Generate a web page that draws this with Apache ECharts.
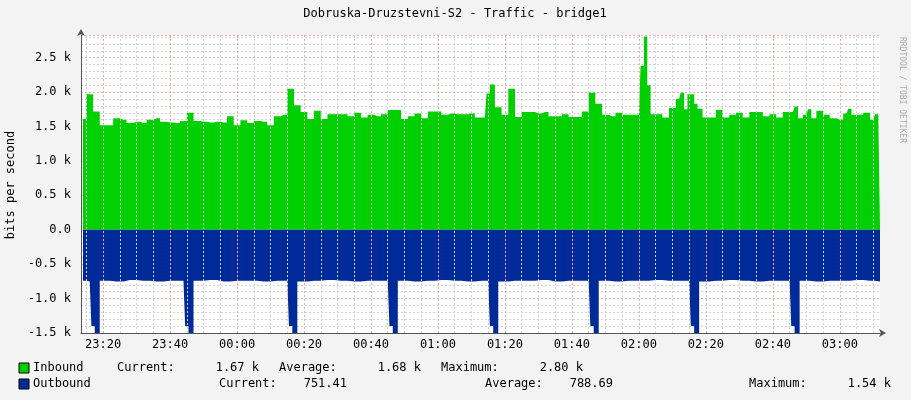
<!DOCTYPE html>
<html>
<head>
<meta charset="utf-8">
<script src="https://cdn.jsdelivr.net/npm/echarts@6/dist/echarts.min.js"></script>
<style>
  html, body { margin: 0; padding: 0; background: #f3f3f3; }
  #chart { width: 911px; height: 400px; }
</style>
</head>
<body>
<div id="chart"></div>
<script>
// x values are minutes after 23:00, y values in k bits per second
var inboundMin = [14, 16, 18, 20, 22, 24, 26, 28, 30, 32, 34, 36, 38, 40, 42, 44, 46, 48, 50, 52,
    54, 56, 58, 60, 62, 64, 66, 68, 70, 72, 74, 76, 78, 80, 82, 84, 86, 88, 90, 92,
    94, 96, 98, 100, 102, 104, 106, 108, 110, 112, 114, 116, 118, 120, 122, 124, 126, 128, 130, 132,
    134, 135, 136, 138, 140, 142, 144, 146, 148, 150, 152, 154, 156, 158, 160, 162, 164, 166, 168, 170,
    172, 174, 176, 178, 180, 181, 182, 183, 184, 186, 188, 190, 192, 193, 194, 195, 196, 197, 198, 200,
    202, 204, 206, 208, 210, 212, 214, 216, 218, 220, 222, 224, 226, 227, 228, 230, 231, 232, 234, 236,
    238, 240, 242, 243, 244, 246, 248, 250, 251, 252];
var inboundVal = [1.61, 1.97, 1.72, 1.52, 1.52, 1.62, 1.60, 1.55, 1.57, 1.55, 1.60, 1.62, 1.57, 1.56, 1.55, 1.58, 1.70, 1.58, 1.57, 1.56,
    1.57, 1.56, 1.65, 1.52, 1.59, 1.55, 1.58, 1.57, 1.52, 1.65, 1.67, 2.05, 1.81, 1.71, 1.61, 1.73, 1.61, 1.68, 1.68, 1.68,
    1.65, 1.70, 1.63, 1.67, 1.65, 1.68, 1.74, 1.74, 1.61, 1.65, 1.69, 1.62, 1.72, 1.72, 1.67, 1.69, 1.68, 1.68, 1.69, 1.63,
    1.63, 1.98, 2.11, 1.78, 1.67, 2.05, 1.64, 1.71, 1.71, 1.69, 1.71, 1.65, 1.65, 1.68, 1.64, 1.64, 1.72, 1.99, 1.83, 1.67,
    1.65, 1.70, 1.67, 1.67, 1.67, 2.38, 2.81, 2.10, 1.68, 1.68, 1.63, 1.77, 1.90, 1.99, 1.75, 1.97, 1.97, 1.83, 1.76, 1.63,
    1.63, 1.74, 1.63, 1.67, 1.70, 1.63, 1.71, 1.71, 1.65, 1.68, 1.63, 1.71, 1.71, 1.79, 1.62, 1.67, 1.75, 1.62, 1.73, 1.67,
    1.62, 1.60, 1.69, 1.76, 1.67, 1.67, 1.70, 1.60, 1.68, 1.68];

var outboundMin = [14, 16, 17, 18, 20, 24, 28, 32, 36, 40, 44, 45, 46, 48, 52, 56, 60, 64, 68, 72,
    75, 76, 77, 79, 83, 87, 91, 95, 99, 103, 105, 106, 107, 109, 113, 117, 121, 125, 129, 133,
    135, 136, 137, 139, 143, 147, 151, 155, 159, 163, 165, 166, 167, 169, 173, 177, 181, 185, 189, 193,
    195, 196, 197, 199, 203, 207, 211, 215, 219, 223, 225, 226, 227, 229, 233, 237, 241, 245, 249, 252];
var outboundVal = [-0.74, -0.75, -1.40, -1.54, -0.74, -0.75, -0.73, -0.74, -0.75, -0.74, -0.74, -1.40, -1.54, -0.74, -0.73, -0.75, -0.74, -0.74, -0.75, -0.74,
    -0.74, -1.40, -1.54, -0.75, -0.74, -0.73, -0.74, -0.75, -0.74, -0.74, -0.74, -1.40, -1.54, -0.74, -0.75, -0.74, -0.73, -0.74, -0.75, -0.74,
    -0.74, -1.40, -1.54, -0.75, -0.74, -0.74, -0.73, -0.75, -0.74, -0.74, -0.74, -1.40, -1.54, -0.74, -0.75, -0.74, -0.74, -0.73, -0.74, -0.74,
    -0.74, -1.40, -1.54, -0.75, -0.74, -0.73, -0.74, -0.75, -0.74, -0.74, -0.74, -1.40, -1.54, -0.74, -0.75, -0.74, -0.74, -0.73, -0.74, -0.75];

var timeLabels = [20, 40, 60, 80, 100, 120, 140, 160, 180, 200, 220, 240];
var minorGrid = [15, 25, 30, 35, 45, 50, 55, 65, 70, 75, 85, 90, 95, 105, 110, 115, 125, 130, 135,
    145, 150, 155, 165, 170, 175, 185, 190, 195, 205, 210, 215, 225, 230, 235, 245, 250];

var legendRows = [
    ["Inbound", "1.67 k", "1.68 k", "2.80 k"],
    ["Outbound", "751.41", "788.69", "1.54 k"]
];

var MONO = "DejaVu Sans Mono";

function zip(xs, ys) {
    return xs.map(function (x, i) { return [x, ys[i]]; });
}

function clock(m) {
    var h = (23 + Math.floor(m / 60)) % 24;
    var mm = m % 60;
    return (h < 10 ? "0" : "") + h + ":" + (mm < 10 ? "0" : "") + mm;
}

var chart = echarts.init(document.getElementById("chart"));

var vLines = [];
minorGrid.forEach(function (m) {
    vLines.push({xAxis: m, lineStyle: {color: "#d4d4d4", type: [2, 2], width: 1}});
});
timeLabels.forEach(function (m) {
    vLines.push({xAxis: m, lineStyle: {color: "#f0a8a8", type: [2, 2], width: 1}});
});

var txt = function (x, y, s, align) {
    return {type: "text", left: null, x: x, y: y,
        style: {text: s, font: "12px " + MONO, fill: "#000", textAlign: align || "left", textVerticalAlign: "middle"}};
};

var graphics = [
    txt(455, 14, "Dobruska-Druzstevni-S2 - Traffic - bridge1", "center"),
    {type: "text", x: 11, y: 185, rotation: Math.PI / 2,
        style: {text: "bits per second", font: "12px " + MONO, fill: "#000", textAlign: "center", textVerticalAlign: "middle"}},
    {type: "text", x: 902, y: 90, rotation: -Math.PI / 2,
        style: {text: "RRDTOOL / TOBI OETIKER", font: "8px " + MONO, fill: "#aaa", textAlign: "center", textVerticalAlign: "middle"}},
    {type: "rect", shape: {x: 19, y: 363, width: 10, height: 10}, style: {fill: "#00cf00", stroke: "#000", lineWidth: 1}},
    {type: "rect", shape: {x: 19, y: 379, width: 10, height: 10}, style: {fill: "#002a97", stroke: "#000", lineWidth: 1}},
    txt(33, 368, legendRows[0][0]),
    txt(117, 368, "Current:"), txt(259, 368, legendRows[0][1], "right"),
    txt(279, 368, "Average:"), txt(421, 368, legendRows[0][2], "right"),
    txt(441, 368, "Maximum:"), txt(583, 368, legendRows[0][3], "right"),
    txt(33, 384, legendRows[1][0]),
    txt(219, 384, "Current:"), txt(347, 384, legendRows[1][1], "right"),
    txt(485, 384, "Average:"), txt(613, 384, legendRows[1][2], "right"),
    txt(749, 384, "Maximum:"), txt(891, 384, legendRows[1][3], "right")
];

var option = {
    backgroundColor: "#f3f3f3",
    animation: false,
    grid: {left: 81, right: 31, top: 35, bottom: 67, show: true, backgroundColor: "#fff", borderWidth: 0},
    xAxis: {
        type: "value",
        min: 13.4,
        max: 252,
        axisLine: {onZero: false, lineStyle: {color: "#555"}, symbol: ["none", "arrow"], symbolSize: [6, 7], symbolOffset: [0, 6]},
        axisTick: {show: false},
        axisLabel: {customValues: timeLabels, formatter: function (v) { return clock(v); },
            fontFamily: MONO, fontSize: 12, color: "#000", margin: 6},
        splitLine: {show: false}
    },
    yAxis: {
        type: "value",
        min: -1.5,
        max: 2.83,
        interval: 0.5,
        axisLine: {show: true, lineStyle: {color: "#555"}, symbol: ["none", "arrow"], symbolSize: [6, 7], symbolOffset: [0, 6]},
        axisTick: {show: false},
        axisLabel: {showMaxLabel: false, fontFamily: MONO, fontSize: 12, color: "#000", margin: 10,
            formatter: function (v) { return v === 0 ? "0.0" : v.toFixed(1) + " k"; }},
        splitLine: {lineStyle: {color: "#f0a8a8", type: [2, 2]}},
        minorTick: {show: false, splitNumber: 5},
        minorSplitLine: {show: true, lineStyle: {color: "#d4d4d4", type: [2, 2]}}
    },
    graphic: graphics,
    series: [
        {
            type: "line", data: [], z: 1, silent: true,
            markLine: {silent: true, symbol: "none", label: {show: false}, data: vLines}
        },
        {
            name: "Inbound", type: "line", step: "middle", z: 3, symbol: "none",
            data: zip(inboundMin, inboundVal),
            lineStyle: {width: 0}, areaStyle: {color: "#00cf00", opacity: 1}
        },
        {
            name: "Outbound", type: "line", step: "middle", z: 3, symbol: "none",
            data: zip(outboundMin, outboundVal),
            lineStyle: {width: 0}, areaStyle: {color: "#002a97", opacity: 1}
        }
    ]
};

chart.setOption(option);
</script>
</body>
</html>
